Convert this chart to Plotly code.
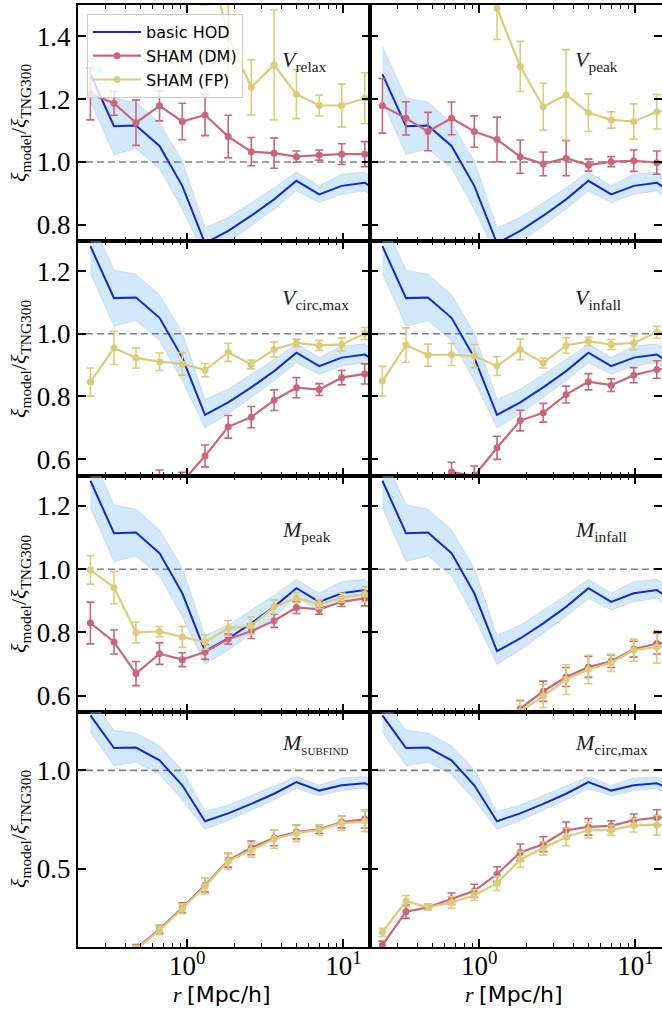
import plotly.graph_objects as go
from plotly.subplots import make_subplots

# ---------------- data ----------------
r = [0.24, 0.34, 0.47, 0.665, 0.93, 1.30, 1.83, 2.57, 3.60, 5.0, 7.0, 9.75, 13.7, 19.2]

hod = [1.28, 1.114, 1.116, 1.051, 0.924, 0.741, 0.781, 0.829, 0.881, 0.940, 0.897, 0.924, 0.934, 0.885]
hod_lo = [1.194, 1.024, 1.042, 0.979, 0.850, 0.699, 0.744, 0.797, 0.850, 0.908, 0.871, 0.897, 0.908, 0.85]
hod_hi = [1.368, 1.204, 1.19, 1.125, 1.003, 0.791, 0.823, 0.871, 0.918, 0.968, 0.924, 0.961, 0.968, 0.92]

panel_labels = ["<i>V</i><sub>relax</sub>", "<i>V</i><sub>peak</sub>",
                "<i>V</i><sub>circ,max</sub>", "<i>V</i><sub>infall</sub>",
                "<i>M</i><sub>peak</sub>", "<i>M</i><sub>infall</sub>",
                "<i>M</i><sub><span style='font-size:11px'>SUBFIND</span></sub>", "<i>M</i><sub>circ,max</sub>"]

# SHAM (DM)
dm_vrelax = [1.217, 1.187, 1.125, 1.179, 1.129, 1.150, 1.081, 1.033, 1.028, 1.017, 1.022, 1.025, 1.025, 1.02]
dm_vrelax_err = [0.083, 0.038, 0.072, 0.048, 0.058, 0.066, 0.068, 0.045, 0.048, 0.018, 0.016, 0.033, 0.04, 0.04]
dm_vpeak = [1.179, 1.139, 1.097, 1.139, 1.097, 1.072, 1.017, 0.994, 1.012, 0.990, 1.001, 1.004, 0.998, 0.995]
dm_vpeak_err = [0.087, 0.053, 0.061, 0.052, 0.05, 0.071, 0.053, 0.038, 0.056, 0.019, 0.016, 0.034, 0.037, 0.037]
dm_vcirc = [0.35, 0.40, 0.45, 0.53, 0.527, 0.610, 0.703, 0.734, 0.788, 0.828, 0.822, 0.860, 0.872, 0.88]
dm_vcirc_err = [0.03, 0.03, 0.03, 0.035, 0.031, 0.035, 0.036, 0.034, 0.033, 0.032, 0.019, 0.023, 0.032, 0.03]
dm_vinfall = [0.35, 0.40, 0.46, 0.559, 0.546, 0.636, 0.723, 0.748, 0.806, 0.847, 0.836, 0.868, 0.886, 0.89]
dm_vinfall_err = [0.03, 0.03, 0.03, 0.031, 0.032, 0.037, 0.033, 0.03, 0.027, 0.026, 0.02, 0.024, 0.028, 0.028]
dm_mpeak = [0.830, 0.770, 0.670, 0.733, 0.714, 0.738, 0.779, 0.804, 0.837, 0.879, 0.873, 0.897, 0.908, 0.91]
dm_mpeak_err = [0.066, 0.038, 0.038, 0.034, 0.022, 0.023, 0.016, 0.023, 0.021, 0.019, 0.015, 0.015, 0.024, 0.024]
dm_minfall = [0.15, 0.2, 0.26, 0.33, 0.42, 0.50, 0.559, 0.614, 0.659, 0.691, 0.709, 0.747, 0.765, 0.77]
dm_minfall_err = [0.02, 0.02, 0.02, 0.02, 0.02, 0.025, 0.025, 0.032, 0.03, 0.033, 0.02, 0.025, 0.033, 0.033]
dm_msubfind = [0.02, 0.04, 0.092, 0.19, 0.30, 0.415, 0.542, 0.605, 0.656, 0.686, 0.70, 0.737, 0.751, 0.755]
dm_msubfind_err = [0.02, 0.02, 0.02, 0.02, 0.025, 0.035, 0.035, 0.035, 0.04, 0.035, 0.02, 0.03, 0.045, 0.045]
dm_mcirc = [0.110, 0.280, 0.302, 0.346, 0.386, 0.471, 0.582, 0.624, 0.695, 0.712, 0.717, 0.746, 0.759, 0.765]
dm_mcirc_err = [0.02, 0.034, 0.015, 0.029, 0.034, 0.038, 0.043, 0.038, 0.042, 0.042, 0.026, 0.032, 0.04, 0.04]

# SHAM (FP)
fp_vrelax = [3.0, 2.7, 2.4, 2.1, 1.9, 1.70, 1.40, 1.238, 1.309, 1.216, 1.180, 1.180, 1.203, 1.2]
fp_vrelax_err = [0.2, 0.2, 0.2, 0.2, 0.2, 0.2, 0.15, 0.088, 0.175, 0.078, 0.033, 0.068, 0.081, 0.08]
fp_vpeak = [2.8, 2.6, 2.4, 2.3, 2.2, 1.49, 1.304, 1.176, 1.214, 1.157, 1.134, 1.129, 1.160, 1.17]
fp_vpeak_err = [0.2, 0.2, 0.2, 0.2, 0.2, 0.1, 0.08, 0.075, 0.144, 0.06, 0.026, 0.056, 0.055, 0.055]
fp_vcirc = [0.846, 0.955, 0.923, 0.911, 0.904, 0.884, 0.941, 0.902, 0.950, 0.971, 0.963, 0.966, 1.001, 1.01]
fp_vcirc_err = [0.045, 0.053, 0.032, 0.028, 0.036, 0.021, 0.029, 0.014, 0.024, 0.012, 0.016, 0.021, 0.019, 0.02]
fp_vinfall = [0.849, 0.964, 0.932, 0.934, 0.929, 0.897, 0.950, 0.907, 0.963, 0.976, 0.966, 0.971, 1.005, 1.01]
fp_vinfall_err = [0.047, 0.055, 0.035, 0.035, 0.037, 0.03, 0.033, 0.016, 0.025, 0.014, 0.016, 0.022, 0.019, 0.02]
fp_mpeak = [0.998, 0.942, 0.800, 0.803, 0.786, 0.770, 0.813, 0.822, 0.881, 0.910, 0.889, 0.910, 0.921, 0.925]
fp_mpeak_err = [0.045, 0.051, 0.033, 0.016, 0.033, 0.023, 0.025, 0.027, 0.022, 0.016, 0.014, 0.014, 0.024, 0.024]
fp_minfall = [0.14, 0.19, 0.25, 0.32, 0.41, 0.49, 0.55, 0.599, 0.651, 0.683, 0.704, 0.744, 0.754, 0.76]
fp_minfall_err = [0.02, 0.02, 0.02, 0.02, 0.03, 0.035, 0.037, 0.037, 0.047, 0.045, 0.027, 0.035, 0.051, 0.051]
fp_msubfind = [0.015, 0.035, 0.087, 0.185, 0.295, 0.410, 0.537, 0.593, 0.650, 0.680, 0.696, 0.731, 0.741, 0.745]
fp_msubfind_err = [0.02, 0.02, 0.02, 0.022, 0.025, 0.04, 0.04, 0.035, 0.047, 0.042, 0.025, 0.036, 0.053, 0.053]
fp_mcirc = [0.175, 0.334, 0.302, 0.327, 0.364, 0.424, 0.546, 0.602, 0.661, 0.695, 0.695, 0.720, 0.720, 0.725]
fp_mcirc_err = [0.02, 0.028, 0.015, 0.03, 0.027, 0.036, 0.04, 0.034, 0.045, 0.04, 0.025, 0.034, 0.05, 0.05]

dm_series = [(dm_vrelax, dm_vrelax_err), (dm_vpeak, dm_vpeak_err), (dm_vcirc, dm_vcirc_err),
             (dm_vinfall, dm_vinfall_err), (dm_mpeak, dm_mpeak_err), (dm_minfall, dm_minfall_err),
             (dm_msubfind, dm_msubfind_err), (dm_mcirc, dm_mcirc_err)]
fp_series = [(fp_vrelax, fp_vrelax_err), (fp_vpeak, fp_vpeak_err), (fp_vcirc, fp_vcirc_err),
             (fp_vinfall, fp_vinfall_err), (fp_mpeak, fp_mpeak_err), (fp_minfall, fp_minfall_err),
             (fp_msubfind, fp_msubfind_err), (fp_mcirc, fp_mcirc_err)]

row_ranges = [[0.75, 1.5], [0.546, 1.298], [0.55, 1.295], [0.1, 1.3]]
row_ticks = [[0.8, 1.0, 1.2, 1.4], [0.6, 0.8, 1.0, 1.2], [0.6, 0.8, 1.0, 1.2], [0.5, 1.0]]
x_major = [1, 10]
x_major_text = ["10<sup>0</sup>", "10<sup>1</sup>"]
x_minor = [0.2, 0.3, 0.4, 0.5, 0.6, 0.7, 0.8, 0.9, 2, 3, 4, 5, 6, 7, 8, 9]

# ---------------- style ----------------
BLUE = "#1428d0"
BAND = "rgba(140,200,245,0.40)"
RED = "#cc6677"
YEL = "#ddcc77"
SERIF = "Liberation Serif"
SANS = "DejaVu Sans"

fig = make_subplots(rows=4, cols=2, horizontal_spacing=0, vertical_spacing=0)

for i in range(8):
    row = i // 2 + 1
    col = i % 2 + 1
    first = (i == 0)
    fig.add_trace(go.Scatter(x=r, y=hod_hi, mode="lines", line=dict(width=0.8, color="rgba(120,160,235,0.35)"),
                             showlegend=False, hoverinfo="skip"), row=row, col=col)
    fig.add_trace(go.Scatter(x=r, y=hod_lo, mode="lines", line=dict(width=0.8, color="rgba(120,160,235,0.35)"),
                             fill="tonexty", fillcolor=BAND, showlegend=False, hoverinfo="skip"), row=row, col=col)
    fig.add_trace(go.Scatter(x=[0.1, 30], y=[1, 1], mode="lines",
                             line=dict(color="#808080", width=1.6, dash="7px,4px"),
                             showlegend=False, hoverinfo="skip"), row=row, col=col)
    fig.add_trace(go.Scatter(x=r, y=hod, mode="lines", line=dict(color=BLUE, width=2),
                             name="basic HOD", legendgroup="hod", showlegend=first), row=row, col=col)
    dm, dme = dm_series[i]
    fig.add_trace(go.Scatter(x=r, y=dm, mode="lines+markers", line=dict(color=RED, width=2.2),
                             marker=dict(size=7, color=RED),
                             error_y=dict(type="data", array=dme, color=RED, thickness=1.6, width=4),
                             name="SHAM (DM)", legendgroup="dm", showlegend=first), row=row, col=col)
    fp, fpe = fp_series[i]
    fig.add_trace(go.Scatter(x=r, y=fp, mode="lines+markers", line=dict(color=YEL, width=2.2),
                             marker=dict(size=7, color=YEL),
                             error_y=dict(type="data", array=fpe, color=YEL, thickness=1.6, width=4),
                             name="SHAM (FP)", legendgroup="fp", showlegend=first), row=row, col=col)

axis_common = dict(showline=True, linewidth=2, linecolor="black", mirror="allticks",
                   ticks="inside", ticklen=8, tickwidth=1.5, tickcolor="black",
                   showgrid=False, zeroline=False, automargin=False)

for row in range(1, 5):
    for col in range(1, 3):
        fig.update_xaxes(type="log", range=[-0.699, 1.170], tickvals=x_major, ticktext=x_major_text,
                         showticklabels=(row == 4), ticklabelstandoff=-6,
                         tickfont=dict(family=SERIF, size=27, color="black"),
                         minor=dict(tickvals=x_minor, ticks="inside", ticklen=4, tickwidth=1.2,
                                    tickcolor="black", showgrid=False),
                         **axis_common, row=row, col=col)
        fig.update_yaxes(range=row_ranges[row - 1], tickvals=row_ticks[row - 1], tickformat=".1f",
                         showticklabels=(col == 1),
                         tickfont=dict(family=SERIF, size=27, color="black"),
                         **axis_common, row=row, col=col)

W, H = 662, 1012
ML, MR, MT, MB = 78, 0, 5, 65
pw = W - ML - MR
ph = H - MT - MB

def px(xp):
    return (xp - ML) / pw

def py(yp):
    return (H - MB - yp) / ph

annotations = []
label_pos = [(280, 61), (573, 61), (280, 299), (573, 299), (280, 531), (573, 531), (280, 744), (573, 744)]
for lab, (lx, ly) in zip(panel_labels, label_pos):
    annotations.append(dict(text=lab, x=px(lx), y=py(ly), xref="paper", yref="paper",
                            xanchor="left", yanchor="middle", showarrow=False,
                            font=dict(family=SERIF, size=22, color="#222222")))

row_centers = [123, 359, 594, 829]
ytitle = "<i>ξ</i><sub>model</sub>/<i>ξ</i><sub>TNG300</sub>"
for yc in row_centers:
    annotations.append(dict(text=ytitle, x=px(20), y=py(yc), xref="paper", yref="paper",
                            xanchor="center", yanchor="middle", textangle=-90, showarrow=False,
                            font=dict(family=SERIF, size=22, color="black")))

xtitle = "<i>r</i> <span style='font-family:DejaVu Sans'>[Mpc/h]</span>"
for xc in [222, 514]:
    annotations.append(dict(text=xtitle, x=px(xc), y=py(994), xref="paper", yref="paper",
                            xanchor="center", yanchor="middle", showarrow=False,
                            font=dict(family=SERIF, size=22, color="black")))

fig.update_layout(
    width=W, height=H,
    margin=dict(l=ML, r=MR, t=MT, b=MB, autoexpand=False),
    plot_bgcolor="white", paper_bgcolor="white",
    annotations=annotations,
    legend=dict(x=px(87), y=py(14), xanchor="left", yanchor="top", traceorder="normal",
                bgcolor="rgba(255,255,255,0.8)", bordercolor="#cccccc", borderwidth=1,
                font=dict(family=SANS, size=16, color="black"), tracegroupgap=5,
                itemwidth=48),
)

fig.write_html("out.html", config={"displayModeBar": False},
               post_script="document.body.style.margin='0px';")
